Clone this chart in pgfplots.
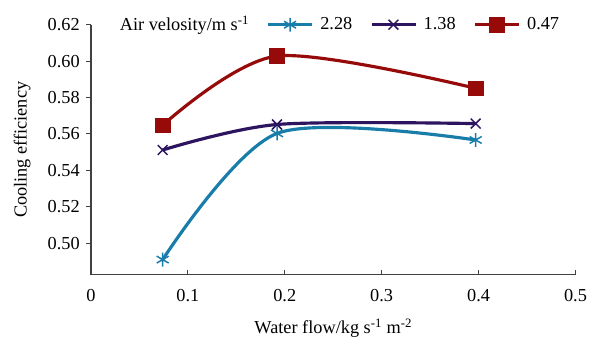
\documentclass[border=0pt]{standalone}
\usepackage{pgfplots}
\pgfplotsset{compat=1.18}
\usepackage{fontspec}
\setmainfont{Liberation Serif}
\definecolor{cteal}{RGB}{25,125,170}
\definecolor{cpurp}{RGB}{45,20,95}
\definecolor{cred}{RGB}{150,10,10}
\begin{document}
\fontsize{18.5}{20}\selectfont
\begin{tikzpicture}
\begin{axis}[
 scale only axis, width=490pt, height=253pt,
 xmin=0, xmax=0.5, ymin=0.4826, ymax=0.62,
 axis x line=bottom, axis y line=left,
 axis line style={-, line width=1.2pt, black!75},
 xtick={0,0.1,0.2,0.3,0.4,0.5},
 ytick={0.50,0.52,0.54,0.56,0.58,0.60,0.62},
 xtick align=inside, ytick align=outside,
 major tick length=5pt,
 tick style={line width=1pt, black!75},
 /pgf/number format/assume math mode=true,
 tick label style={font=\fontsize{18.5}{20}\selectfont},
 yticklabel style={/pgf/number format/.cd, fixed, fixed zerofill, precision=2},
 xticklabel style={yshift=-8pt, /pgf/number format/.cd, fixed, precision=1},
 xlabel={Water flow/kg s\textsuperscript{-1} m\textsuperscript{-2}},
 ylabel={Cooling efficiency},
 label style={font=\fontsize{18.5}{20}\selectfont},
 xlabel style={at={(rel axis cs:0.5,0)}, anchor=center, yshift=-54pt},
 ylabel style={at={(rel axis cs:-0.142,0.5)}, anchor=center},
 legend columns=-1,
 legend style={at={(rel axis cs:0.045,1)}, anchor=west, draw=none, fill=none, inner sep=0pt,
   font=\fontsize{18.5}{20}\selectfont,
   /tikz/every even column/.append style={column sep=16pt},
   /tikz/every odd column/.append style={column sep=5pt}},
 legend image code/.code={\draw[mark repeat=2,mark phase=2] plot coordinates {(0pt,0pt) (22pt,0pt) (44pt,0pt)};},
 every axis plot/.append style={line width=3.2pt, smooth, tension=0.5},
 clip=false,
]
\addlegendimage{empty legend}
\addlegendentry{Air velosity/m s\textsuperscript{-1}}
\addplot[color=cteal, mark=asterisk, mark size=7pt, mark options={line width=1.5pt, solid}] coordinates {(0.074,0.491) (0.192,0.5603) (0.397,0.5567)};
\addlegendentry{2.28}
\addplot[color=cpurp, mark=x, mark size=7pt, mark options={line width=1.5pt, solid}] coordinates {(0.074,0.5512) (0.192,0.5652) (0.397,0.5657)};
\addlegendentry{1.38}
\addplot[color=cred, mark=square*, mark size=7.5pt, mark options={line width=0.5pt, solid}] coordinates {(0.074,0.5648) (0.192,0.6028) (0.397,0.5851)};
\addlegendentry{0.47}
\coordinate (o) at (rel axis cs:0,0);
\coordinate (t) at (rel axis cs:1,1);
\end{axis}
\path ([shift={(-92pt,-62pt)}]o) rectangle ([shift={(11pt,25pt)}]t);
\end{tikzpicture}
\end{document}
